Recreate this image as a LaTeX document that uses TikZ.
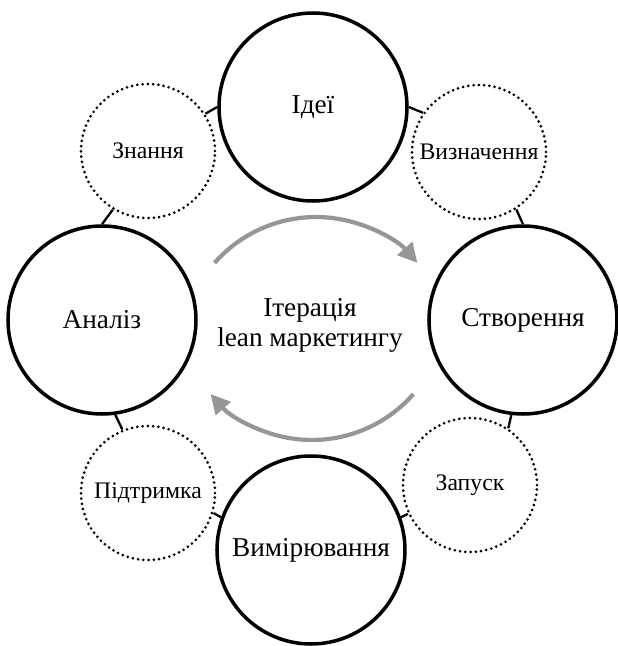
\documentclass[tikz,border=0pt]{standalone}
\usepackage{fontspec}
\setmainfont{Liberation Serif}
\usetikzlibrary{arrows.meta}
\definecolor{arrowgray}{RGB}{150,150,150}
\begin{document}
\begin{tikzpicture}[
    bigcirc/.style={circle, draw, line width=2pt, minimum size=3.76cm, inner sep=0pt, font=\fontsize{15.5}{17}\selectfont},
    smallcirc/.style={circle, draw, line width=1.7pt, dash pattern=on 0pt off 3pt, line cap=round, minimum size=2.68cm, inner sep=0pt, font=\fontsize{13.5}{16}\selectfont},
    link/.style={line width=1.3pt},
    cyclearrow/.style={arrowgray, line width=2.4pt, -{Triangle[length=11pt, width=11pt]}}
]
    \useasboundingbox (-6.2, -6.42) rectangle (6.16, 6.5);

    % основні етапи
    \node[bigcirc] (idei) at (0.06, 4.36) {Ідеї};
    \node[bigcirc] (stvorennya) at (4.26, 0.10) {Створення};
    \node[bigcirc] (vymiryuvannya) at (0.02, -4.50) {Вимірювання};
    \node[bigcirc] (analiz) at (-4.16, 0.10) {Аналіз};

    % проміжні етапи
    \node[smallcirc] (znannya) at (-3.24, 3.48) {Знання};
    \node[smallcirc] (vyznachennya) at (3.38, 3.46) {Визначення};
    \node[smallcirc] (zapusk) at (3.20, -3.20) {Запуск};
    \node[smallcirc] (pidtrymka) at (-3.24, -3.36) {Підтримка};

    % з'єднання
    \draw[link] (idei.180) -- (znannya.33);
    \draw[link] (idei.0) -- (vyznachennya.145);
    \draw[link] (stvorennya.90) -- (vyznachennya.-57);
    \draw[link] (stvorennya.263) -- (zapusk.56);
    \draw[link] (vymiryuvannya.20) -- (zapusk.205);
    \draw[link] (vymiryuvannya.160) -- (pidtrymka.-17);
    \draw[link] (analiz.278) -- (pidtrymka.112);
    \draw[link] (analiz.90) -- (znannya.239);

    % центр
    \node[align=center, font=\fontsize{15.5}{17}\selectfont] (iteratsiya) at (0, 0) {Ітерація\\lean маркетингу};

    % стрілки циклу
    \draw[cyclearrow] (0.12, -0.54) ++(138.7:2.7) arc (138.7:41.3:2.7);
    \draw[cyclearrow] (0.04, 0.40) ++(-41.3:2.7) arc (-41.3:-138.7:2.7);
\end{tikzpicture}
\end{document}
